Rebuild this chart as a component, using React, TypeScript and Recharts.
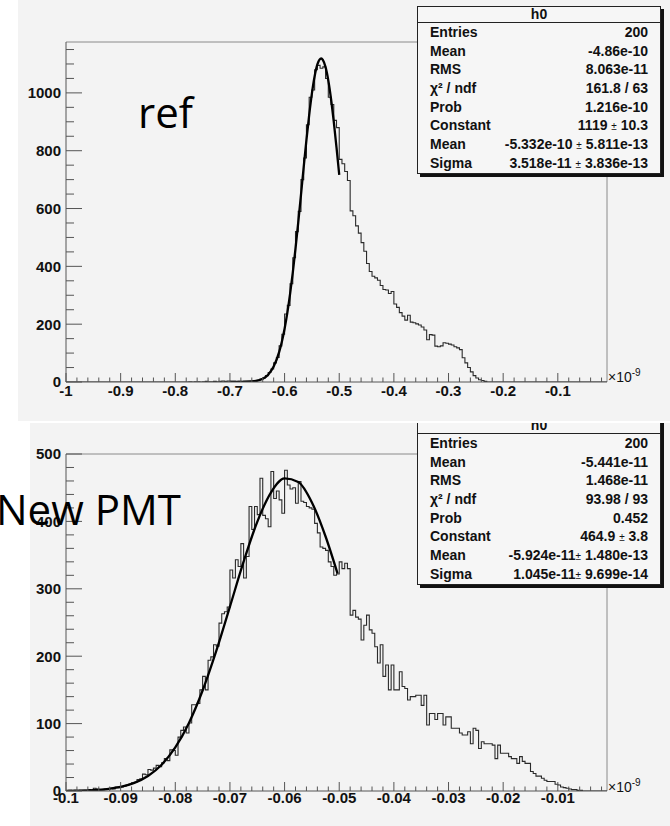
import React from "react";
import { LineChart, Line, XAxis, YAxis, ReferenceLine } from "recharts";

const CANVAS = "#f3f3f3";
const INK = "#111";
const AXIS = "#555";
const FRAME = "#8a8a8a";
const ROOT_FONT = "'Liberation Sans', Arial, Helvetica, sans-serif";
const SLIDE_FONT = "'Open Sans', 'Noto Sans', sans-serif";

// ---- reference tube: 200 bins of 0.005 (x1e-9) starting at -1
const refLow = -1;
const refBin = 0.005;
const refCounts = [
  0, 0, 0, 0, 0, 0, 0, 0, 0, 0,
  0, 0, 0, 0, 0, 0, 0, 0, 0, 0,
  0, 0, 0, 0, 0, 0, 0, 0, 0, 0,
  0, 0, 0, 0, 0, 0, 0, 0, 0, 0,
  0, 0, 0, 0, 0, 1, 0, 1, 1, 0,
  1, 2, 1, 1, 2, 1, 2, 3, 2, 3,
  2, 2, 1, 2, 1, 2, 2, 2, 3, 4,
  6, 10, 14, 22, 33, 45, 66, 85, 125, 165,
  235, 265, 340, 430, 520, 590, 700, 775, 890, 985,
  1010, 1080, 1095, 1085, 1090, 1050, 985, 960, 905, 880,
  770, 755, 728, 697, 592, 575, 540, 515, 482, 452,
  410, 382, 366, 360, 352, 334, 320, 318, 306, 313,
  270, 258, 240, 228, 214, 231, 207, 205, 201, 197,
  190, 180, 146, 164, 162, 124, 122, 125, 136, 134,
  131, 128, 122, 118, 112, 84, 66, 50, 35, 22,
  14, 8, 5, 2, 0, 0, 0, 0, 0, 0,
  0, 0, 0, 0, 0, 0, 0, 0, 0, 0,
  0, 0, 0, 0, 0, 0, 0, 0, 0, 0,
  0, 0, 0, 0, 0, 0, 0, 0, 0, 0,
  0, 0, 0, 0, 0, 0, 0, 0, 0, 0,
];
const refFitX = [
  -0.7, -0.68, -0.66, -0.65, -0.64, -0.63, -0.62, -0.61, -0.605, -0.6,
  -0.595, -0.59, -0.585, -0.58, -0.575, -0.57, -0.565, -0.56, -0.555, -0.55,
  -0.545, -0.54, -0.533, -0.53, -0.525, -0.52, -0.515, -0.51, -0.505, -0.5,
];
const refFitY = [
  0, 0.2, 1.7, 4.5, 11.2, 25.4, 53.3, 103.3, 139.4, 184.4,
  239.1, 303.9, 378.4, 461.9, 552.5, 647.5, 743.7, 837.1, 923.5, 998.4,
  1057.8, 1098.3, 1119, 1114.4, 1089, 1042.9, 978.9, 900.2, 811.5, 716.8,
];
const refXTicks = [-1, -0.9, -0.8, -0.7, -0.6, -0.5, -0.4, -0.3, -0.2, -0.1];
const refYTicks = [0, 200, 400, 600, 800, 1000];
const refStats = [
  ["Entries", "200"],
  ["Mean", "-4.86e-10"],
  ["RMS", "8.063e-11"],
  ["χ² / ndf", "161.8 / 63"],
  ["Prob", "1.216e-10"],
  ["Constant", "1119 ± 10.3"],
  ["Mean", "-5.332e-10 ± 5.811e-13"],
  ["Sigma", "3.518e-11 ± 3.836e-13"],
];

// ---- new PMT: 200 bins of 0.0005 (x1e-9) starting at -0.1
const pmtLow = -0.1;
const pmtBin = 0.0005;
const pmtCounts = [
  0, 1, 0, 1, 0, 1, 1, 0, 2, 1,
  4, 3, 2, 2, 3, 3, 4, 3, 6, 5,
  6, 7, 9, 10, 12, 13, 17, 18, 25, 24,
  32, 31, 34, 38, 36, 42, 48, 45, 61, 60,
  53, 80, 90, 95, 86, 101, 128, 128, 130, 150,
  170, 150, 194, 199, 217, 215, 249, 263, 266, 273,
  328, 316, 343, 333, 367, 316, 348, 422, 388, 422,
  410, 464, 409, 404, 392, 474, 434, 445, 432, 412,
  476, 454, 448, 450, 427, 459, 430, 428, 422, 420,
  418, 397, 383, 362, 360, 357, 340, 333, 320, 322,
  340, 330, 338, 330, 261, 268, 258, 255, 224, 246,
  261, 239, 234, 214, 190, 217, 170, 187, 150, 187,
  150, 150, 177, 155, 152, 135, 140, 140, 142, 142,
  127, 142, 98, 115, 115, 106, 115, 115, 98, 110,
  110, 93, 93, 93, 86, 83, 83, 88, 70, 93,
  90, 63, 73, 70, 70, 70, 68, 48, 68, 56,
  56, 56, 51, 48, 48, 41, 51, 44, 41, 41,
  29, 26, 22, 22, 19, 16, 14, 14, 14, 10,
  9, 6, 5, 4, 3, 2, 2, 1, 1, 0,
  0, 0, 0, 0, 0, 0, 0, 0, 0, 0,
];
const pmtFitX = [
  -0.1, -0.0975, -0.095, -0.0925, -0.09, -0.0875, -0.085, -0.0825, -0.08, -0.0775,
  -0.075, -0.0725, -0.07, -0.0675, -0.065, -0.0625, -0.06, -0.0575, -0.055, -0.0525,
  -0.0503,
];
const pmtFitY = [
  0.2, 0.6, 1.3, 2.9, 6.1, 12.0, 22.3, 39.0, 64.6, 101.0,
  149.1, 207.8, 273.6, 340.2, 399.4, 442.8, 463.7, 458.5, 428.2, 377.6,
  322.4,
];
const pmtXTicks = [-0.1, -0.09, -0.08, -0.07, -0.06, -0.05, -0.04, -0.03, -0.02, -0.01];
const pmtYTicks = [0, 100, 200, 300, 400, 500];
const pmtStats = [
  ["Entries", "200"],
  ["Mean", "-5.441e-11"],
  ["RMS", "1.468e-11"],
  ["χ² / ndf", "93.98 / 93"],
  ["Prob", "0.452"],
  ["Constant", "464.9 ± 3.8"],
  ["Mean", "-5.924e-11± 1.480e-13"],
  ["Sigma", "1.045e-11± 9.699e-14"],
];

function steps(min: number, max: number, step: number) {
  const out: number[] = [];
  const k0 = Math.ceil(min / step - 1e-6);
  const k1 = Math.floor(max / step + 1e-6);
  for (let k = k0; k <= k1; k++) out.push(+(k * step).toFixed(6));
  return out;
}

const isMajor = (v: number, majors: number[]) => majors.some((m) => Math.abs(m - v) < 1e-7);

function renderValue(v: string) {
  const parts = v.split("±");
  if (parts.length < 2) return v;
  return (
    <>
      {parts[0]}
      <span style={{ fontSize: 10, fontWeight: "normal" }}>±</span>
      {parts[1]}
    </>
  );
}

function StatsBox({ left, top, rows }: { left: number; top: number; rows: string[][] }) {
  return (
    <div
      style={{
        position: "absolute",
        left,
        top,
        width: 244,
        boxSizing: "border-box",
        border: "1px solid #222",
        background: "#f6f6f6",
        boxShadow: "3px 3px 0 #111",
        fontFamily: ROOT_FONT,
        fontWeight: "bold",
        fontSize: 14,
        color: INK,
        whiteSpace: "pre",
      }}
    >
      <div style={{ height: 15, lineHeight: "15px", textAlign: "center", borderBottom: "1px solid #222" }}>h0</div>
      {rows.map(([label, value], i) => (
        <div
          key={i}
          style={{ height: 18.7, lineHeight: "18.7px", display: "flex", justifyContent: "space-between", padding: "0 12px" }}
        >
          <span>{label}</span>
          <span>{renderValue(value)}</span>
        </div>
      ))}
    </div>
  );
}

type PanelProps = {
  left: number;
  top: number;
  width: number;
  height: number;
  plotTop: number;
  plotRight: number;
  yAxisW: number;
  xAxisH: number;
  counts: number[];
  low: number;
  bin: number;
  fitX: number[];
  fitY: number[];
  xDomain: [number, number];
  yMax: number;
  xMajors: number[];
  xMinorStep: number;
  yMajors: number[];
  yMinorStep: number;
  xLabelGap: number;
  children?: React.ReactNode;
};

function Panel(p: PanelProps) {
  const hist = p.counts.map((c, i) => ({ x: +(p.low + i * p.bin).toFixed(6), count: c }));
  hist.push({ x: +(p.low + p.counts.length * p.bin).toFixed(6), count: p.counts[p.counts.length - 1] });
  const fit = p.fitX.map((x, i) => ({ x, fit: p.fitY[i] }));
  const xTicks = steps(p.xDomain[0], p.xDomain[1], p.xMinorStep);
  const yTicks = steps(0, p.yMax, p.yMinorStep);

  const xTick = (t: any) => {
    const v = t.payload.value;
    const major = isMajor(v, p.xMajors);
    return (
      <g>
        <line x1={t.x} x2={t.x} y1={t.y} y2={t.y - (major ? 9 : 4.5)} stroke={AXIS} />
        {major && (
          <text
            x={t.x}
            y={t.y + p.xLabelGap}
            dy="0.75em"
            textAnchor="middle"
            fill={INK}
            fontFamily={ROOT_FONT}
            fontWeight="bold"
            fontSize={15}
          >
            {String(v)}
          </text>
        )}
      </g>
    );
  };

  const yTick = (t: any) => {
    const v = t.payload.value;
    const major = isMajor(v, p.yMajors);
    return (
      <g>
        <line x1={t.x} x2={t.x + (major ? 16 : 8)} y1={t.y} y2={t.y} stroke={AXIS} />
        {major && (
          <text
            x={t.x - 5}
            y={t.y}
            dy="0.36em"
            textAnchor="end"
            fill={INK}
            fontFamily={ROOT_FONT}
            fontWeight="bold"
            fontSize={15}
          >
            {String(v)}
          </text>
        )}
      </g>
    );
  };

  return (
    <div
      style={{
        position: "absolute",
        left: p.left,
        top: p.top,
        width: p.width,
        height: p.height,
        background: CANVAS,
        overflow: "hidden",
      }}
    >
      <LineChart
        width={p.width}
        height={p.height}
        margin={{ top: p.plotTop, right: p.width - p.plotRight, left: 0, bottom: 0 }}
      >
        <XAxis
          type="number"
          dataKey="x"
          domain={p.xDomain}
          allowDataOverflow
          ticks={xTicks}
          interval={0}
          height={p.xAxisH}
          tickLine={false}
          tickSize={0}
          tickMargin={0}
          axisLine={{ stroke: AXIS }}
          tick={xTick}
        />
        <YAxis
          type="number"
          domain={[0, p.yMax]}
          allowDataOverflow
          ticks={yTicks}
          interval={0}
          width={p.yAxisW}
          tickLine={false}
          tickSize={0}
          tickMargin={0}
          axisLine={{ stroke: AXIS }}
          tick={yTick}
        />
        <ReferenceLine y={p.yMax} stroke={FRAME} ifOverflow="visible" />
        <ReferenceLine x={p.xDomain[1]} stroke={FRAME} ifOverflow="visible" />
        <Line
          data={hist}
          dataKey="count"
          type="stepAfter"
          stroke="#2a2a2a"
          strokeWidth={1.1}
          dot={false}
          activeDot={false}
          isAnimationActive={false}
        />
        <Line
          data={fit}
          dataKey="fit"
          type="monotone"
          stroke="#000"
          strokeWidth={2.3}
          dot={false}
          activeDot={false}
          isAnimationActive={false}
        />
      </LineChart>
      {p.children}
    </div>
  );
}

const exponentStyle: React.CSSProperties = {
  position: "absolute",
  left: 608,
  fontFamily: ROOT_FONT,
  fontSize: 14,
  lineHeight: "14px",
  color: INK,
};

export default function App() {
  return (
    <div style={{ position: "absolute", left: 0, top: 0, width: 670, height: 826, background: "#fff", overflow: "hidden" }}>
      <Panel
        left={18}
        top={0}
        width={652}
        height={421}
        plotTop={42}
        plotRight={589}
        yAxisW={48}
        xAxisH={39}
        counts={refCounts}
        low={refLow}
        bin={refBin}
        fitX={refFitX}
        fitY={refFitY}
        xDomain={[-1, -0.01]}
        yMax={1176}
        xMajors={refXTicks}
        xMinorStep={0.02}
        yMajors={refYTicks}
        yMinorStep={50}
        xLabelGap={3}
      >
        <StatsBox left={399} top={6} rows={refStats} />
      </Panel>
      <Panel
        left={30}
        top={423}
        width={640}
        height={403}
        plotTop={31}
        plotRight={577}
        yAxisW={36}
        xAxisH={35}
        counts={pmtCounts}
        low={pmtLow}
        bin={pmtBin}
        fitX={pmtFitX}
        fitY={pmtFitY}
        xDomain={[-0.1, -0.001]}
        yMax={500}
        xMajors={pmtXTicks}
        xMinorStep={0.002}
        yMajors={pmtYTicks}
        yMinorStep={20}
        xLabelGap={1}
      >
        <StatsBox left={387} top={-6} rows={pmtStats} />
      </Panel>

      <div style={{ ...exponentStyle, top: 370 }}>
        ×10<span style={{ fontSize: 10, position: "relative", top: -6 }}>-9</span>
      </div>
      <div style={{ ...exponentStyle, top: 780 }}>
        ×10<span style={{ fontSize: 10, position: "relative", top: -6 }}>-9</span>
      </div>

      <div style={{ position: "absolute", left: 138, top: 91, fontFamily: SLIDE_FONT, fontSize: 42, lineHeight: "42px", color: "#000" }}>
        ref
      </div>
      <div
        style={{ position: "absolute", left: -4, top: 488, fontFamily: SLIDE_FONT, fontSize: 42, lineHeight: "42px", color: "#000", whiteSpace: "nowrap" }}
      >
        New PMT
      </div>
    </div>
  );
}
